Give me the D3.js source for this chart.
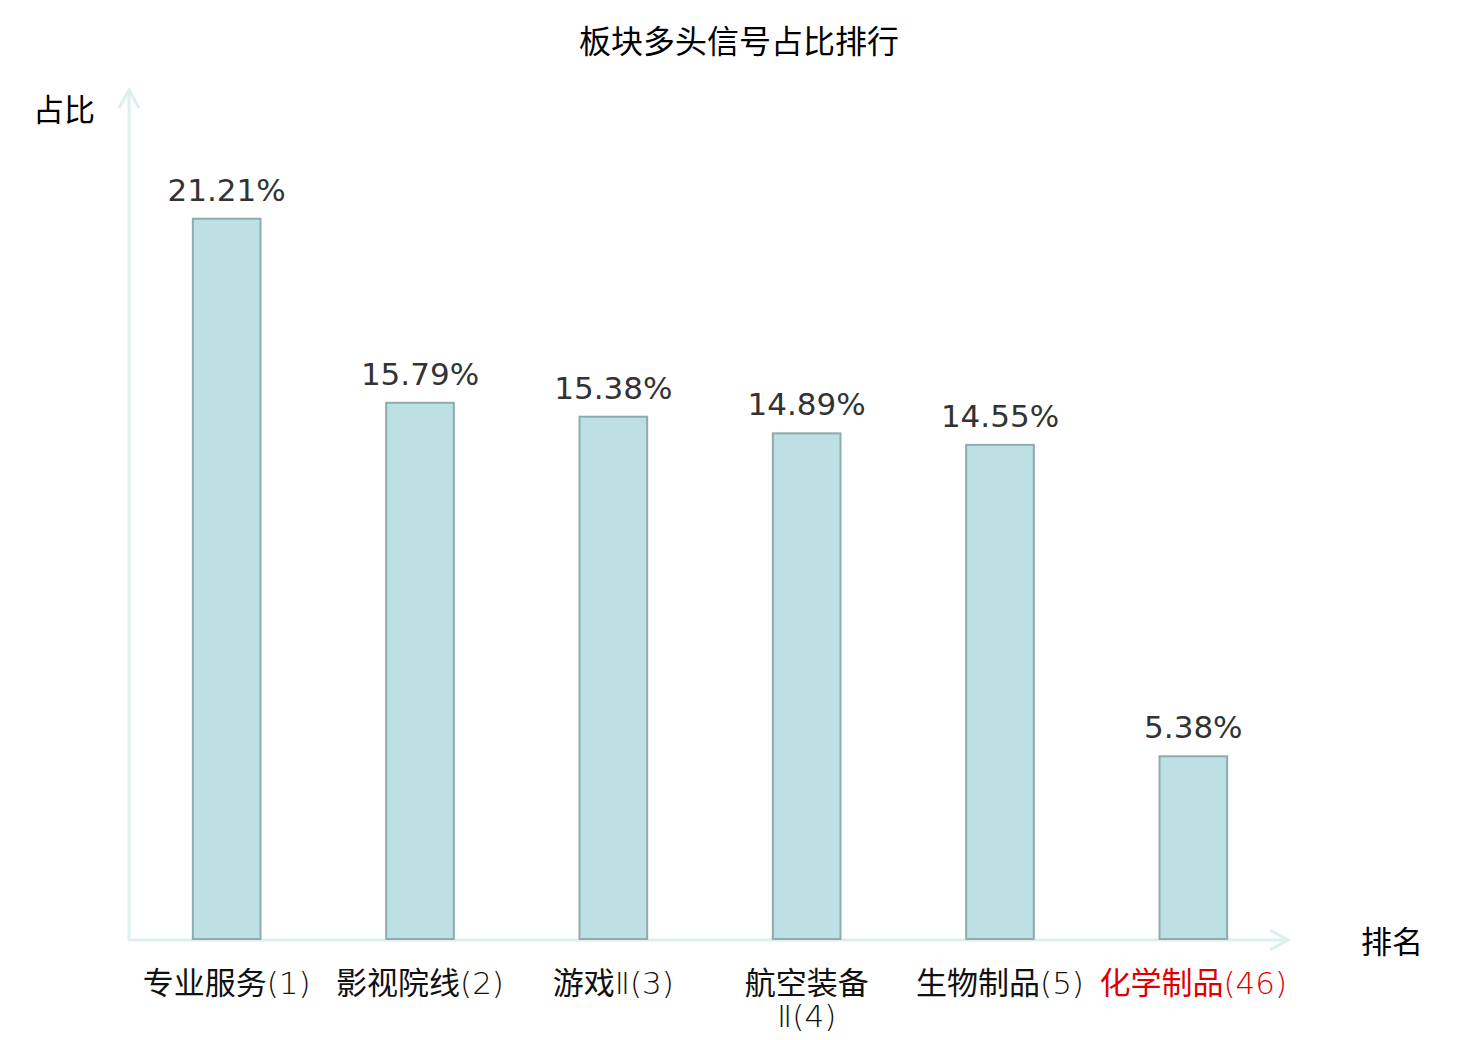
<!DOCTYPE html>
<html>
<head>
<meta charset="utf-8">
<script src="https://cdn.jsdelivr.net/npm/d3@7"></script>
<style>
  body { margin: 0; background: #fff; }
  svg text { font-family: "DejaVu Sans", "Noto Sans CJK SC", sans-serif; }
</style>
</head>
<body>
<svg id="chart" width="1480" height="1040"></svg>
<script>
// data
const categories = ["专业服务(1)", "影视院线(2)", "游戏Ⅱ(3)", "航空装备Ⅱ(4)", "生物制品(5)", "化学制品(46)"];
const values = [21.21, 15.79, 15.38, 14.89, 14.55, 5.38];
const highlighted = ["化学制品(46)"];

const svg = d3.select("#chart");
const axisColor = "#dcf0ee";
const baseY = 939;
const fs = "31px";

const x = d3.scaleBand().domain(categories).range([130, 1290]).paddingInner(0.65).paddingOuter(0.325);
const y = d3.scaleLinear().domain([0, 25]).range([baseY, 90]);

// title
svg.append("text")
    .attr("x", 739).attr("y", 53)
    .attr("text-anchor", "middle")
    .style("font-size", "32px")
    .text("板块多头信号占比排行");

// axes with arrows
svg.append("line")
    .attr("x1", 129).attr("y1", baseY + 1).attr("x2", 129).attr("y2", 90)
    .attr("stroke", axisColor).attr("stroke-width", 3);
svg.append("path")
    .attr("d", "M119,108 L129,90 L139,108")
    .attr("fill", "none").attr("stroke", axisColor).attr("stroke-width", 3);
svg.append("line")
    .attr("x1", 128).attr("y1", baseY + 1).attr("x2", 1288).attr("y2", baseY + 1)
    .attr("stroke", axisColor).attr("stroke-width", 3);
svg.append("path")
    .attr("d", "M1270,930 L1288,940 L1270,950")
    .attr("fill", "none").attr("stroke", axisColor).attr("stroke-width", 3);

svg.append("text").attr("x", 33).attr("y", 121)
    .style("font-size", fs).text("占比");
svg.append("text").attr("x", 1361).attr("y", 953)
    .style("font-size", fs).text("排名");

// bars
svg.selectAll("rect.bar")
    .data(categories)
    .enter()
    .append("rect")
    .attr("class", "bar")
    .attr("x", (d) => x(d))
    .attr("y", (d, i) => y(values[i]))
    .attr("width", x.bandwidth())
    .attr("height", (d, i) => baseY - y(values[i]))
    .attr("fill", "#bce0e3")
    .attr("stroke", "#8fabab")
    .attr("stroke-width", 2);

// value labels
svg.selectAll("text.val")
    .data(categories)
    .enter()
    .append("text")
    .attr("class", "val")
    .attr("x", (d) => x(d) + x.bandwidth() / 2)
    .attr("y", (d, i) => y(values[i]) - 18)
    .attr("text-anchor", "middle")
    .style("font-size", fs)
    .attr("fill", "#333")
    .text((d, i) => values[i].toFixed(2) + "%");

// category labels: chinese part regular, numbering part thin
// long names with a "Ⅱ" suffix break before it, as in the source chart
categories.forEach((c) => {
    const cx = x(c) + x.bandwidth() / 2;
    const [, head, tail] = c.match(/^([^Ⅱ(]+)(.*)$/);
    const t = svg.append("text")
        .attr("x", cx)
        .attr("y", 994)
        .attr("text-anchor", "middle")
        .style("font-size", fs)
        .attr("fill", highlighted.includes(c) ? "#e00000" : "#111");
    if (tail.startsWith("Ⅱ") && head.length >= 4) {
        t.append("tspan").attr("x", cx).text(head);
        t.append("tspan").attr("x", cx).attr("dy", 33).style("font-weight", 200).text(tail);
    } else {
        t.append("tspan").text(head);
        t.append("tspan").style("font-weight", 200).text(tail);
    }
});
</script>
</body>
</html>
